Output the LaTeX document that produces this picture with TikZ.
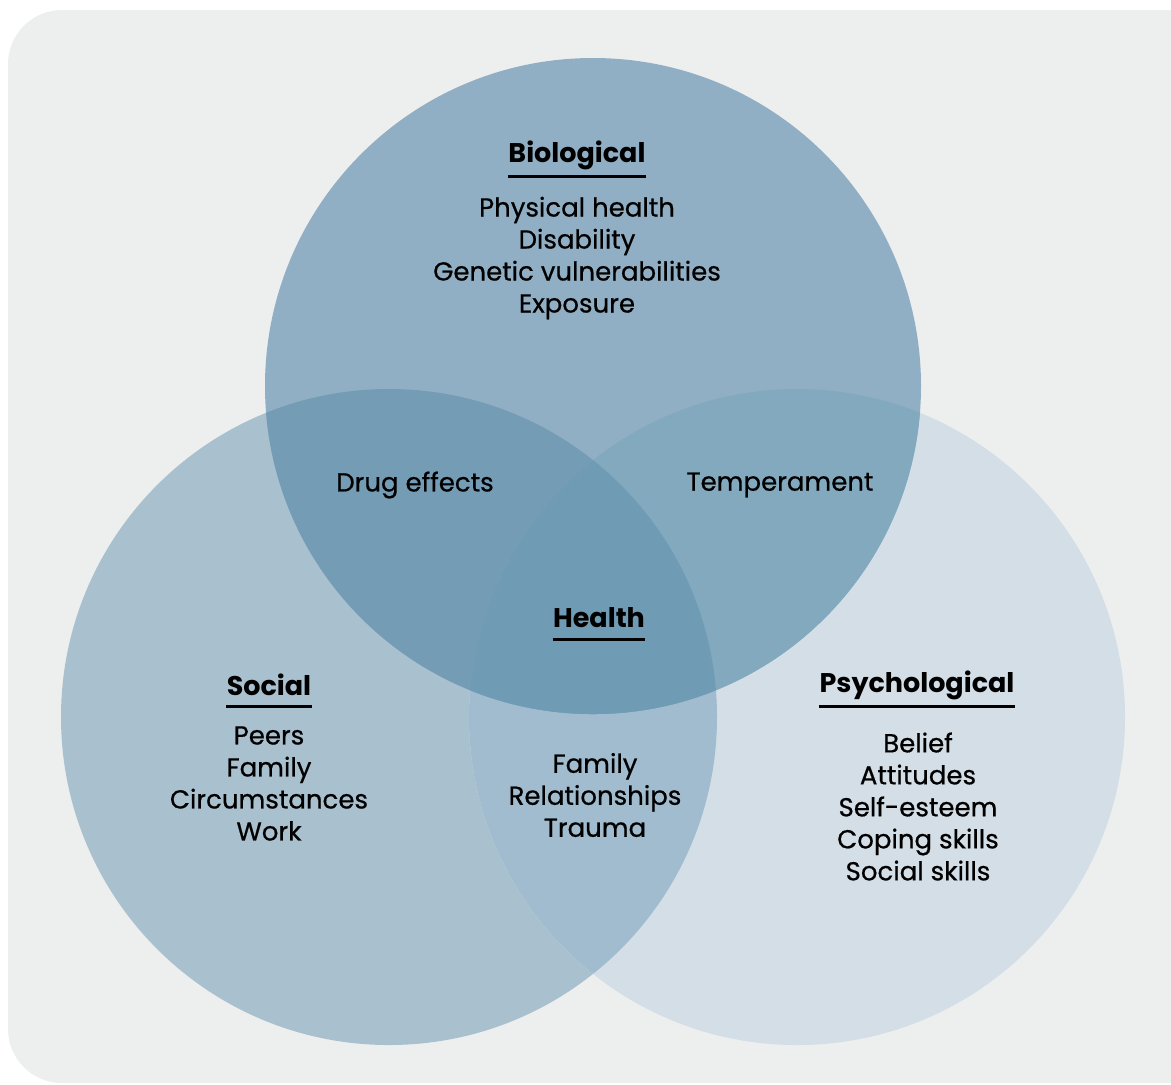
\documentclass[tikz,border=0pt]{standalone}
\usepackage{fontspec}
\setmainfont{Poppins}
\newfontfamily\itemfont{Poppins}[FakeBold=0.6]
\definecolor{panel}{HTML}{EDEEEE}
\definecolor{biocol}{HTML}{91AFC4}
\definecolor{soccol}{HTML}{A9C0CF}
\definecolor{psycol}{HTML}{D3DEE6}
\definecolor{biosoc}{HTML}{749CB4}
\definecolor{biopsy}{HTML}{83A9BF}
\definecolor{socpsy}{HTML}{A0BCCE}
\definecolor{allcol}{HTML}{6F9BB5}
\begin{document}
\begin{tikzpicture}[x=0.5pt,y=-0.5pt,
    item/.style={align=center,inner sep=0pt,font=\itemfont\fontsize{13}{16}\selectfont},
    head/.style={inner sep=0pt,font=\bfseries\fontsize{13.5}{16}\selectfont},
    rule/.style={line width=1.5pt}]
  \useasboundingbox (0,0) rectangle (1171,1084);
  \clip (0,0) rectangle (1171,1084);
  \fill[panel,rounded corners=27pt] (8,10) rectangle (1230,1083);
  % circle centres
  \coordinate (bc) at (593,386);
  \coordinate (sc) at (389,717);
  \coordinate (pc) at (797,717);
  \fill[soccol] (sc) circle (328);
  \fill[psycol] (pc) circle (328);
  \begin{scope}
    \clip (sc) circle (328);
    \fill[socpsy] (pc) circle (328);
  \end{scope}
  \fill[biocol] (bc) circle (328);
  \begin{scope}
    \clip (bc) circle (328);
    \fill[biosoc] (sc) circle (328);
    \fill[biopsy] (pc) circle (328);
    \clip (sc) circle (328);
    \fill[allcol] (pc) circle (328);
  \end{scope}
  % labels
  \node[head] (bio) at (577,155) {Biological};
  \node[head] (soc) at (269,685) {Social};
  \node[head] (psy) at (917,685) {Psychological};
  \node[head] (hea) at (599,618) {Health};
  \foreach \n in {bio,soc,psy,hea}
    \draw[rule] ([yshift=-10.5pt]\n.west) -- ([yshift=-10.5pt]\n.east);
  \node[item] (biolist) at (577,258) {Physical health\\Disability\\Genetic vulnerabilities\\Exposure};
  \node[item] (soclist) at (269,783.5) {Peers\\Family\\Circumstances\\Work};
  \node[item] (psylist) at (918,806.5) {Belief\\Attitudes\\Self-esteem\\Coping skills\\Social skills};
  \node[item] (drug) at (415,485) {Drug effects};
  \node[item] (temp) at (780,485) {Temperament};
  \node[item] (fam) at (595,795) {Family\\Relationships\\Trauma};
\end{tikzpicture}
\end{document}
